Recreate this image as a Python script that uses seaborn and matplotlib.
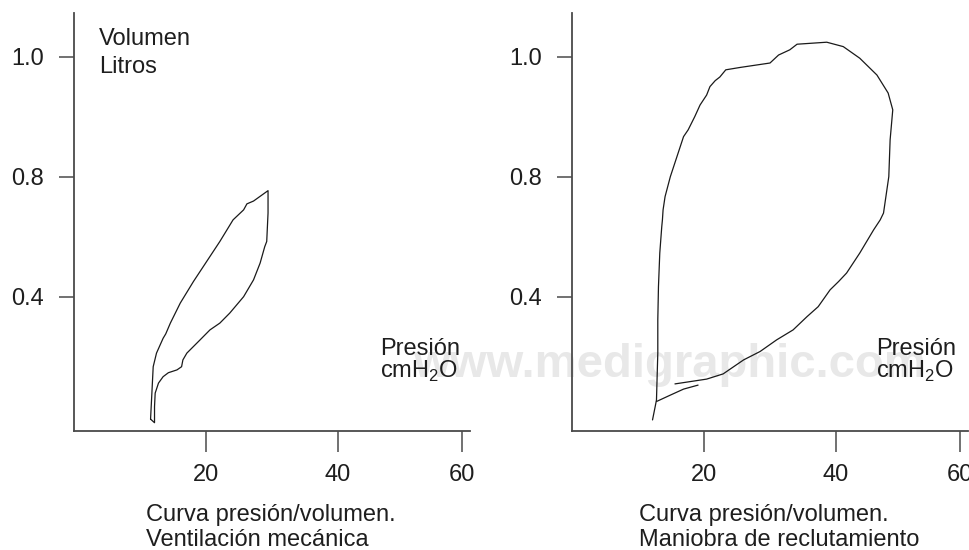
import matplotlib
matplotlib.use("Agg")
import matplotlib.pyplot as plt
import seaborn as sns

# ---------------- data ----------------
# Left panel: Ventilación mecánica (closed loop, pressure cmH2O / volume in axis units)
vm_pressure = [11.6, 11.8, 12.0, 12.5, 13.5, 13.9, 14.6, 16.1, 18.1, 20.1, 22.1, 24.1,
               25.7, 26.2, 27.2, 29.4,
               29.4, 29.2, 28.9, 28.2, 27.2, 25.7, 23.6, 22.1, 20.6, 19.1, 17.1, 16.5,
               16.3, 15.6, 14.3, 13.5, 12.8, 12.3, 12.2, 12.2, 11.6]
vm_volume = [0.094, 0.159, 0.225, 0.259, 0.296, 0.307, 0.334, 0.384, 0.438, 0.488, 0.538,
             0.592, 0.617, 0.632, 0.639, 0.665,
             0.609, 0.538, 0.525, 0.484, 0.442, 0.400, 0.359, 0.334, 0.317, 0.292, 0.259,
             0.242, 0.225, 0.217, 0.210, 0.200, 0.184, 0.159, 0.125, 0.085, 0.094]

# Right panel: Maniobra de reclutamiento (main open curve)
mr_pressure = [12.2, 12.6, 12.8, 13.0, 13.0, 13.1, 13.3, 13.6, 13.7, 13.8, 14.1, 14.9,
               15.9, 16.9, 17.6, 18.6, 19.4, 20.4, 20.9, 21.7, 22.4, 23.3, 25.5, 30.0,
               31.3, 33.0, 34.1, 38.6, 41.1, 43.6, 46.2, 47.9, 48.6, 48.2, 48.0, 47.2,
               46.7, 45.7, 43.6, 41.6, 40.4, 39.1, 37.3, 35.6, 33.5, 31.0, 28.5, 26.0,
               22.9, 20.4, 18.4, 15.6]
mr_volume = [0.092, 0.125, 0.142, 0.259, 0.342, 0.425, 0.509, 0.575, 0.592, 0.617, 0.650,
             0.700, 0.750, 0.800, 0.817, 0.850, 0.879, 0.904, 0.925, 0.940, 0.949, 0.967,
             0.973, 0.984, 1.004, 1.017, 1.031, 1.036, 1.025, 0.996, 0.954, 0.909, 0.867,
             0.792, 0.700, 0.609, 0.592, 0.567, 0.509, 0.459, 0.438, 0.417, 0.375, 0.350,
             0.317, 0.292, 0.263, 0.242, 0.207, 0.194, 0.189, 0.182]
# Right panel: short inspiratory start segment
mr_seg_pressure = [19.1, 16.9, 14.9, 12.8]
mr_seg_volume = [0.179, 0.169, 0.154, 0.138]

x_tick_pos = [20, 40, 58.8]
x_tick_labels = ["20", "40", "60"]
y_tick_pos = [0.4, 0.7, 1.0]
y_tick_labels = ["0.4", "0.8", "1.0"]
captions = [("Curva presión/volumen.", "Ventilación mecánica"),
            ("Curva presión/volumen.", "Maniobra de reclutamiento")]

# ---------------- styling ----------------
sns.set_theme(style="ticks")
plt.rcParams["font.family"] = ["Liberation Sans", "DejaVu Sans"]
plt.rcParams["mathtext.fontset"] = "custom"
plt.rcParams["mathtext.rm"] = "Liberation Sans"

W, H = 970, 550
fig = plt.figure(figsize=(W / 100, H / 100), dpi=100)
fig.patch.set_facecolor("white")

TXT = "#1e1e1e"
FS = 17
SPINE = "#4a4a4a"
LINE = "#1a1a1a"

def fx(px):
    return px / W

def fy(py):
    return 1 - py / H

# watermark behind everything
fig.text(fx(670), fy(377), "www.medigraphic.com", ha="center", va="baseline",
         fontsize=34, family="Liberation Sans", weight="bold",
         color="#e8e8e8", zorder=-1)

ax_l = fig.add_axes([fx(74), fy(431), 396 / W, 418 / H])
ax_r = fig.add_axes([fx(572), fy(431), 396 / W, 418 / H])

sns.lineplot(x=vm_pressure, y=vm_volume, sort=False, estimator=None, ax=ax_l,
             color=LINE, linewidth=0.9)
sns.lineplot(x=mr_pressure, y=mr_volume, sort=False, estimator=None, ax=ax_r,
             color=LINE, linewidth=0.9)
sns.lineplot(x=mr_seg_pressure, y=mr_seg_volume, sort=False, estimator=None, ax=ax_r,
             color=LINE, linewidth=0.9)

for ax in (ax_l, ax_r):
    ax.set_facecolor("none")
    ax.set_xlim(0, 60)
    ax.set_ylim(0.0643, 1.109)
    ax.set_xticks(x_tick_pos, x_tick_labels)
    ax.set_yticks(y_tick_pos, y_tick_labels)
    ax.set_xlabel("")
    ax.set_ylabel("")
    for s in ("top", "right"):
        ax.spines[s].set_visible(False)
    for s in ("left", "bottom"):
        ax.spines[s].set_color(SPINE)
        ax.spines[s].set_linewidth(1.3)
    ax.tick_params(axis="x", direction="out", length=15, width=1.1, color=SPINE,
                   pad=8.5, labelsize=FS, labelcolor=TXT)
    ax.tick_params(axis="y", direction="out", length=11, width=1.1, color=SPINE,
                   pad=10.5, labelsize=FS, labelcolor=TXT)

# "Volumen / Litros" label (left panel only)
fig.text(fx(99), fy(45), "Volumen", fontsize=FS, color=TXT, va="baseline", ha="left")
fig.text(fx(99), fy(73), "Litros", fontsize=FS, color=TXT, va="baseline", ha="left")

# "Presión cmH2O" labels
for xpx in (380.5, 876.5):
    fig.text(fx(xpx), fy(355), "Presión", fontsize=FS, color=TXT, va="baseline", ha="left")
    fig.text(fx(xpx), fy(378), r"cmH$_\mathregular{2}$O", fontsize=FS, color=TXT,
             va="baseline", ha="left")

# captions
for xpx, (l1, l2) in zip((146, 639), captions):
    fig.text(fx(xpx), fy(521), l1, fontsize=FS, color=TXT, va="baseline", ha="left")
    fig.text(fx(xpx), fy(546), l2, fontsize=FS, color=TXT, va="baseline", ha="left")

fig.savefig("out.png", dpi=100, facecolor="white")
